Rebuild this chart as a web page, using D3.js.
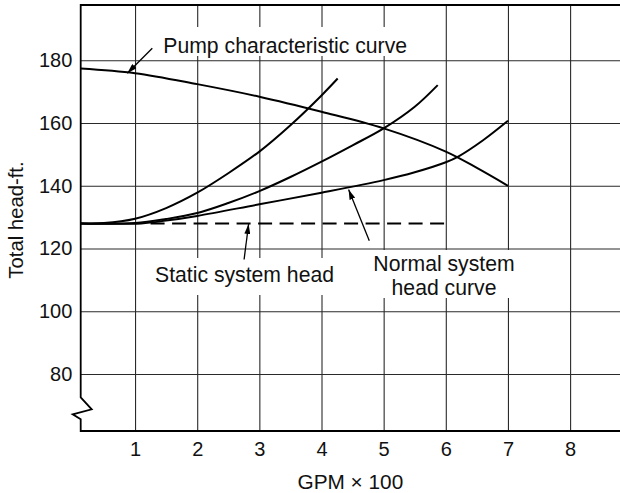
<!DOCTYPE html>
<html>
<head>
<meta charset="utf-8">
<script src="https://cdn.jsdelivr.net/npm/d3@7"></script>
<style>
  html, body { margin: 0; padding: 0; background: #fff; }
  svg { display: block; }
  text { font-family: "Liberation Sans", Arial, Helvetica, sans-serif; fill: #111; }
</style>
</head>
<body>
<svg id="chart" width="620" height="493"></svg>
<script>
// ---------- data ----------
const xTicks = [1, 2, 3, 4, 5, 6, 7, 8];
const yTicks = [80, 100, 120, 140, 160, 180];

const pumpX = [0.125, 1, 2, 3, 4, 5, 6, 6.5, 7];
const pumpY = [177.4, 175.9, 172.4, 168.4, 163.6, 158.3, 150.9, 145.7, 140.0];

const steepX = [0.125, 0.5, 1, 1.5, 2, 2.5, 3, 3.5, 4, 4.26];
const steepY = [128, 128.1, 129.5, 132.9, 137.8, 144.0, 150.9, 159.3, 168.8, 174.2];

const midX = [0.125, 1.0, 1.5, 2, 2.5, 3, 3.5, 4, 4.5, 5, 5.5, 5.87];
const midY = [128, 128.1, 129.4, 131.3, 134.5, 138.3, 142.8, 147.7, 152.9, 158.3, 165.2, 172.1];

const normalX = [0.125, 1.1, 1.5, 2, 3, 4, 5, 5.5, 6, 6.2, 6.6, 7];
const normalY = [128, 128, 128.9, 130.4, 134.1, 137.8, 141.8, 144.3, 147.5, 149.3, 154.5, 160.7];

const staticX = [1.25, 6];
const staticY = [128, 128];

const labels = {
  pump: "Pump characteristic curve",
  stat: "Static system head",
  normal1: "Normal system",
  normal2: "head curve",
  xTitle: "GPM \u00d7 100",
  yTitle: "Total head-ft."
};

// ---------- layout ----------
const svg = d3.select("#chart");
const pL = 80.7, pR = 620, pT = 5, pB = 431;
const x = d3.scaleLinear().domain([0, 8]).range([72.9, 570.1]);
const y = d3.scaleLinear().domain([80, 180]).range([374, 60.3]);
const FS = 20, LFS = 21.2;

// grid via axes
const yAxis = d3.axisLeft(y).tickValues(yTicks).tickSize(-(pR - pL)).tickPadding(8.4);
const gy = svg.append("g").attr("transform", `translate(${pL},0)`).call(yAxis);
gy.select(".domain").remove();
gy.selectAll(".tick line").attr("stroke", "#2a2a2a").attr("stroke-width", 1.1);
gy.selectAll(".tick text").attr("font-size", FS).attr("fill", "#111")
  .attr("font-family", "Liberation Sans, Arial, sans-serif");

const xAxis = d3.axisBottom(x).tickValues(xTicks).tickSize(-(pB - pT)).tickPadding(10.5);
const gx = svg.append("g").attr("transform", `translate(0,${pB})`).call(xAxis);
gx.select(".domain").remove();
gx.selectAll(".tick line").attr("stroke", "#2a2a2a").attr("stroke-width", 1.1);
gx.selectAll(".tick text").attr("font-size", FS).attr("fill", "#111")
  .attr("font-family", "Liberation Sans, Arial, sans-serif");

// white boxes behind labels (break grid lines)
svg.append("rect").attr("x", 157).attr("y", 27).attr("width", 257).attr("height", 29).attr("fill", "#fff");
svg.append("rect").attr("x", 150).attr("y", 258).attr("width", 190).attr("height", 37).attr("fill", "#fff");
svg.append("rect").attr("x", 364).attr("y", 250).attr("width", 158).attr("height", 48).attr("fill", "#fff");

// frame with axis break
svg.append("path")
  .attr("d", `M${pR},${pT} L${pL},${pT} L${pL},397.3 L91.7,409.3 L72.7,414.3 L${pL},419.3 L${pL},${pB} L${pR},${pB}`)
  .attr("fill", "none").attr("stroke", "#000").attr("stroke-width", 1.8).attr("stroke-linejoin", "miter");

// curves
const line = d3.line().x(d => x(d[0])).y(d => y(d[1])).curve(d3.curveCatmullRom.alpha(0.5));
function series(xs, ys) { return xs.map((v, i) => [v, ys[i]]); }

svg.append("path").datum(series(staticX, staticY))
  .attr("d", d3.line().x(d => x(d[0])).y(d => y(d[1])))
  .attr("fill", "none").attr("stroke", "#000").attr("stroke-width", 2)
  .attr("stroke-dasharray", "14,7.5");

[[pumpX, pumpY], [steepX, steepY], [midX, midY], [normalX, normalY]].forEach(([xs, ys]) => {
  svg.append("path").datum(series(xs, ys))
    .attr("d", line)
    .attr("fill", "none").attr("stroke", "#000").attr("stroke-width", 2);
});

// arrows
const defs = svg.append("defs");
defs.append("marker").attr("id", "ah").attr("viewBox", "0 0 10 6")
  .attr("refX", 10).attr("refY", 3).attr("markerWidth", 10).attr("markerHeight", 6)
  .attr("markerUnits", "userSpaceOnUse").attr("orient", "auto")
  .append("path").attr("d", "M0,0 L10,3 L0,6 Z").attr("fill", "#000");

const arrows = [
  [[152.3, 48.3], [127.3, 73.3]],
  [[244.1, 259.5], [248.6, 224.0]],
  [[369.3, 240.7], [348.6, 189.5]]
];
arrows.forEach(([a, b]) => {
  svg.append("line").attr("x1", a[0]).attr("y1", a[1]).attr("x2", b[0]).attr("y2", b[1])
    .attr("stroke", "#000").attr("stroke-width", 1.3).attr("marker-end", "url(#ah)");
});

// labels
svg.append("text").attr("x", 163.3).attr("y", 53).attr("font-size", LFS).text(labels.pump);
svg.append("text").attr("x", 155).attr("y", 281.5).attr("font-size", LFS).text(labels.stat);
svg.append("text").attr("x", 444).attr("y", 271).attr("font-size", LFS).attr("text-anchor", "middle").text(labels.normal1);
svg.append("text").attr("x", 444).attr("y", 295).attr("font-size", LFS).attr("text-anchor", "middle").text(labels.normal2);

svg.append("text").attr("x", (pL + pR) / 2).attr("y", 489).attr("font-size", 20.8)
  .attr("text-anchor", "middle").text(labels.xTitle);
svg.append("text").attr("transform", "translate(22.7,220) rotate(-90)").attr("font-size", 20.3)
  .attr("text-anchor", "middle").text(labels.yTitle);
</script>
</body>
</html>
